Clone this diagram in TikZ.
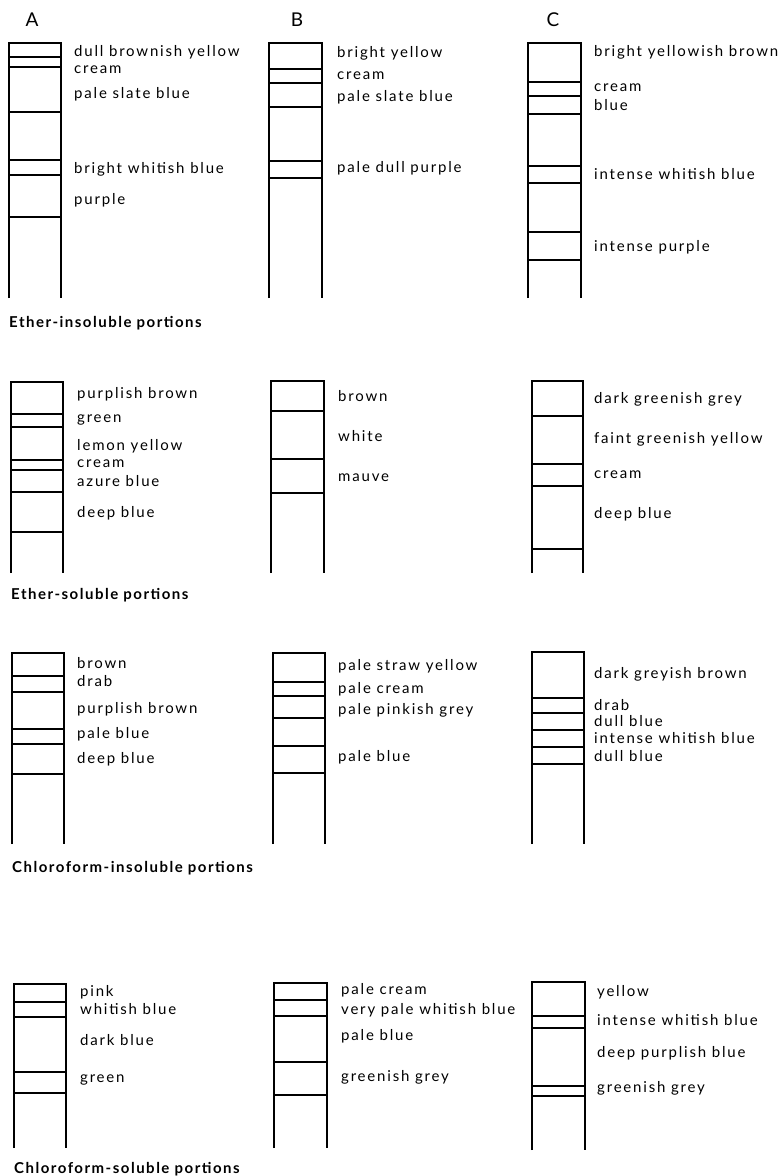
\documentclass[tikz,border=0pt]{standalone}
\usepackage{fontspec}
\setmainfont{Lato}
\newfontfamily\labfont{Lato}[LetterSpace=12]
\newfontfamily\ttlfont{Lato Bold}[LetterSpace=10]
\begin{document}
\begin{tikzpicture}[x=1pt,y=-1pt,
  tubeline/.style={line width=1.1pt, black},
  lab/.style={anchor=mid west, inner sep=0pt, yshift=-2pt, font=\labfont\fontsize{15}{15}\selectfont},
  ttl/.style={anchor=mid west, inner sep=0pt, yshift=-2pt, font=\ttlfont\fontsize{15}{15}\selectfont},
  hdr/.style={anchor=center, inner sep=0pt, font=\fontsize{19}{19}\selectfont}]
\useasboundingbox (0,0) rectangle (784,1176);
% column macro: x1, x2, top, bottom, band lines
\newcommand\stripcol[5]{%
  \draw[tubeline] (#1,#4) -- (#1,#3) -- (#2,#3) -- (#2,#4);
  \foreach \yy in {#5} {\draw[tubeline] (#1,\yy) -- (#2,\yy);}}
% headers
\node[hdr] (hA) at (32,20) {A};
\node[hdr] (hB) at (297,20) {B};
\node[hdr] (hC) at (553,20) {C};
% ---------- Panel 1: Ether-insoluble ----------
\stripcol{9}{61}{43}{298}{57,67,112,160,175,217}
\stripcol{269}{322}{43}{298}{69,83,107,161,178}
\stripcol{528}{581}{43}{298}{82,96,114,166,183,232,260}
\node[lab] (a1) at (74,52) {dull brownish yellow};
\node[lab] (a2) at (74,69) {cream};
\node[lab] (a3) at (74,94) {pale slate blue};
\node[lab] (a4) at (74,169) {bright whitish blue};
\node[lab] (a5) at (74,200) {purple};
\node[lab] (b1) at (337,53) {bright yellow};
\node[lab] (b2) at (337,75) {cream};
\node[lab] (b3) at (337,97) {pale slate blue};
\node[lab] (b4) at (337,168) {pale dull purple};
\node[lab] (c1) at (594,52) {bright yellowish brown};
\node[lab] (c2) at (594,87) {cream};
\node[lab] (c3) at (594,106) {blue};
\node[lab] (c4) at (594,175) {intense whitish blue};
\node[lab] (c5) at (594,247) {intense purple};
\node[ttl] (t1) at (9,323) {Ether-insoluble portions};
% ---------- Panel 2: Ether-soluble ----------
\stripcol{11}{63}{382}{573}{414,427,460,470,492,532}
\stripcol{271}{324}{381}{573}{411,459,493}
\stripcol{532}{583}{381}{573}{416,464,486,549}
\node[lab] (d1) at (77,394) {purplish brown};
\node[lab] (d2) at (77,418) {green};
\node[lab] (d3) at (77,446) {lemon yellow};
\node[lab] (d4) at (77,463) {cream};
\node[lab] (d5) at (77,482) {azure blue};
\node[lab] (d6) at (77,513) {deep blue};
\node[lab] (e1) at (338,397) {brown};
\node[lab] (e2) at (338,437) {white};
\node[lab] (e3) at (338,477) {mauve};
\node[lab] (f1) at (594,399) {dark greenish grey};
\node[lab] (f2) at (594,439) {faint greenish yellow};
\node[lab] (f3) at (594,474) {cream};
\node[lab] (f4) at (594,514) {deep blue};
\node[ttl] (t2) at (11,595) {Ether-soluble portions};
% ---------- Panel 3: Chloroform-insoluble ----------
\stripcol{12}{64}{653}{844}{676,692,729,744,774}
\stripcol{273}{325}{653}{844}{682,696,718,746,773}
\stripcol{532}{584}{652}{844}{698,713,730,747,764}
\node[lab] (g1) at (77,664) {brown};
\node[lab] (g2) at (77,682) {drab};
\node[lab] (g3) at (77,709) {purplish brown};
\node[lab] (g4) at (77,734) {pale blue};
\node[lab] (g5) at (77,759) {deep blue};
\node[lab] (h1) at (338,666) {pale straw yellow};
\node[lab] (h2) at (338,689) {pale cream};
\node[lab] (h3) at (338,710) {pale pinkish grey};
\node[lab] (h4) at (338,757) {pale blue};
\node[lab] (i1) at (594,674) {dark greyish brown};
\node[lab] (i2) at (594,706) {drab};
\node[lab] (i3) at (594,722) {dull blue};
\node[lab] (i4) at (594,739) {intense whitish blue};
\node[lab] (i5) at (594,757) {dull blue};
\node[ttl] (t3) at (12,868) {Chloroform-insoluble portions};
% ---------- Panel 4: Chloroform-soluble ----------
\stripcol{14}{66}{984}{1148}{1002,1017,1072,1093}
\stripcol{274}{327}{983}{1148}{1000,1016,1062,1095}
\stripcol{532}{585}{982}{1150}{1016,1028,1086,1096}
\node[lab] (j1) at (80,992) {pink};
\node[lab] (j2) at (80,1010) {whitish blue};
\node[lab] (j3) at (80,1041) {dark blue};
\node[lab] (j4) at (80,1078) {green};
\node[lab] (k1) at (341,990) {pale cream};
\node[lab] (k2) at (341,1010) {very pale whitish blue};
\node[lab] (k3) at (341,1036) {pale blue};
\node[lab] (k4) at (341,1077) {greenish grey};
\node[lab] (l1) at (597,992) {yellow};
\node[lab] (l2) at (597,1021) {intense whitish blue};
\node[lab] (l3) at (597,1053) {deep purplish blue};
\node[lab] (l4) at (597,1088) {greenish grey};
\node[ttl] (t4) at (14,1169) {Chloroform-soluble portions};
\end{tikzpicture}
\end{document}
